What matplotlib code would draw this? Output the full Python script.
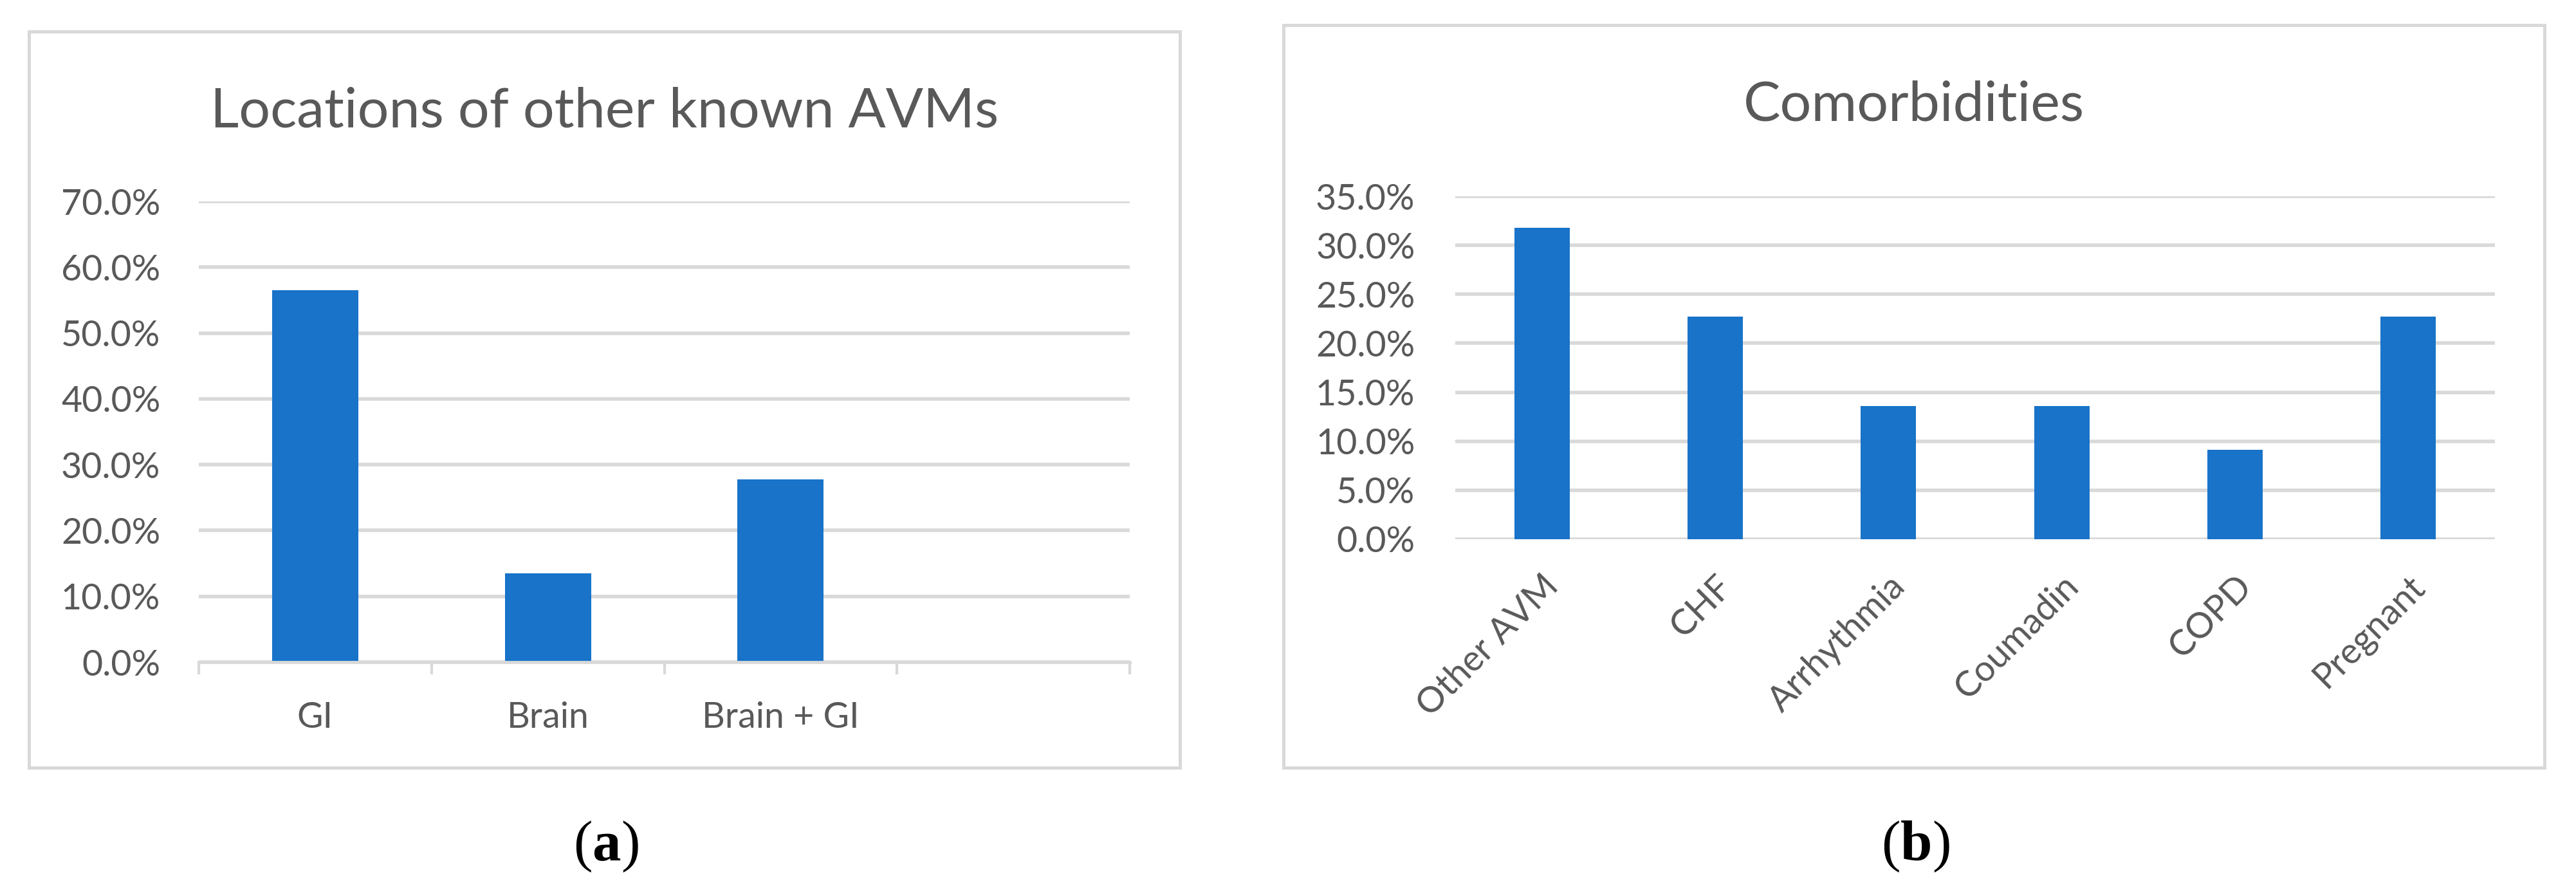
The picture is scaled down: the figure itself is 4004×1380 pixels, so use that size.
import numpy as np
import matplotlib
matplotlib.use("Agg")
import matplotlib.pyplot as plt
from matplotlib.patches import Rectangle

# -------------------------
# Data
# -------------------------
loc_labels = ["GI", "Brain", "Brain + GI", ""]
loc_values = [56.5, 13.5, 27.8]          # percent

comorb_labels = ["Other AVM", "CHF", "Arrhythmia", "Coumadin", "COPD", "Pregnant"]
comorb_values = [31.8, 22.7, 13.6, 13.6, 9.1, 22.7]   # percent

loc_yticks = np.arange(0, 71, 10)
comorb_yticks = np.arange(0, 36, 5)

# -------------------------
# Style
# -------------------------
W, H, DPI = 4004, 1380, 100
BAR = "#1873C9"
GRID = "#D9D9D9"
TXT = "#595959"
FONT = "Lato"

plt.rcParams["font.family"] = [FONT, "DejaVu Sans"]
plt.rcParams["mathtext.fontset"] = "custom"
plt.rcParams["mathtext.rm"] = "Liberation Serif"
plt.rcParams["mathtext.bf"] = "Liberation Serif:bold"

fig = plt.figure(figsize=(W / DPI, H / DPI), dpi=DPI)


def fx(px):
    return px / W


def fy(py):
    return 1 - py / H


# chart frames
for x0, y0, x1, y1 in [(45, 49, 1834, 1193), (1995, 39, 3955, 1193)]:
    fig.add_artist(Rectangle((fx(x0), fy(y1)), fx(x1 - x0), (y1 - y0) / H,
                             transform=fig.transFigure, fill=False,
                             edgecolor=GRID, linewidth=3.6))


def style_axes(ax, yticks, pad):
    for s in ["top", "right", "left", "bottom"]:
        ax.spines[s].set_visible(False)
    ax.set_yticks(yticks)
    ax.set_yticklabels([f"{v:.1f}%" for v in yticks])
    ax.yaxis.grid(True, color=GRID, linewidth=4)
    ax.set_axisbelow(True)
    ax.tick_params(axis="y", length=0, pad=pad, labelsize=40, labelcolor=TXT)


# ---- (a) Locations ----
ax1 = fig.add_axes([fx(309), fy(1029), fx(1756 - 309), (1029 - 313) / H])
x1 = np.arange(len(loc_values))
ax1.bar(x1, loc_values, width=0.37, color=BAR, zorder=2)
ax1.set_xlim(-0.5, len(loc_labels) - 0.5)
ax1.set_ylim(0, 70)
style_axes(ax1, loc_yticks, 43)
ax1.set_xticks(np.arange(len(loc_labels)))
ax1.set_xticklabels(loc_labels)
ax1.set_xticks(np.arange(len(loc_labels) + 1) - 0.5, minor=True)
ax1.tick_params(axis="x", which="major", length=0, pad=44, labelsize=40, labelcolor=TXT)
ax1.tick_params(axis="x", which="minor", length=14, width=3, color=GRID, direction="out")
ax1.spines["bottom"].set_visible(True)
ax1.spines["bottom"].set_color(GRID)
ax1.spines["bottom"].set_linewidth(3.5)

fig.text(fx(940), fy(198), "Locations of other known AVMs", ha="center", va="baseline",
         fontsize=62, color=TXT)

# ---- (b) Comorbidities ----
ax2 = fig.add_axes([fx(2262), fy(838), fx(3878 - 2262), (838 - 305) / H])
x2 = np.arange(len(comorb_values))
ax2.bar(x2, comorb_values, width=0.32, color=BAR, zorder=2)
ax2.set_xlim(-0.5, len(comorb_labels) - 0.5)
ax2.set_ylim(0, 35)
style_axes(ax2, comorb_yticks, 45)
ax2.set_xticks(x2)
ax2.set_xticklabels(comorb_labels, rotation=45, ha="right", rotation_mode="anchor")
ax2.tick_params(axis="x", length=0, pad=34, labelsize=40, labelcolor=TXT)

fig.text(fx(2975), fy(188), "Comorbidities", ha="center", va="baseline",
         fontsize=62, color=TXT)

# ---- panel letters ----
for xc, letter in [(942, "a"), (2977, "b")]:
    fig.text(fx(xc), fy(1316), r"($\mathbf{" + letter + "}$)", ha="center", va="center",
             fontsize=64, family="Liberation Serif", color="black")

fig.savefig("out.png", dpi=DPI, facecolor="white")
